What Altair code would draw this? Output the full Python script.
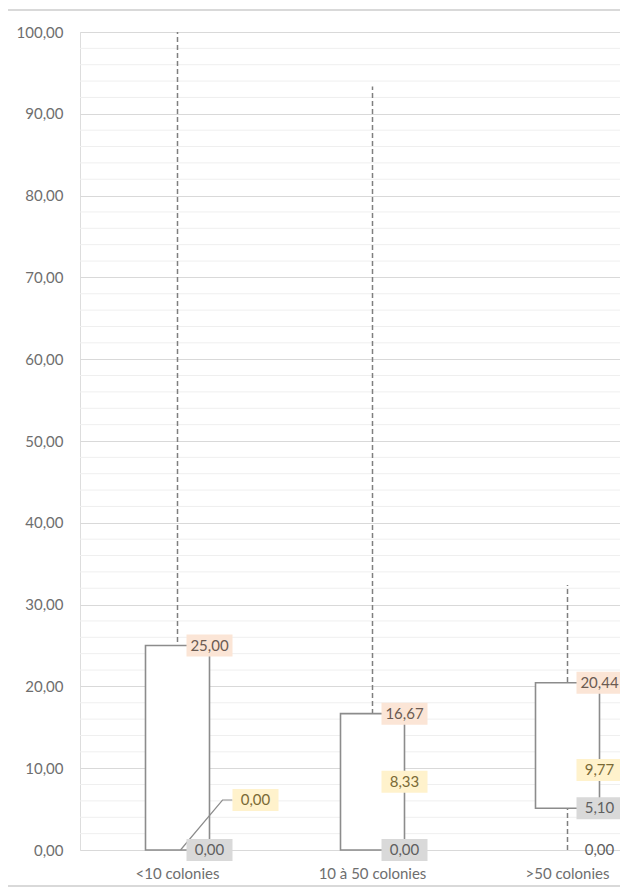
import altair as alt
import pandas as pd

# ---- data ----
categories = ["<10 colonies", "10 à 50 colonies", ">50 colonies"]
minimum = [0.00, 0.00, 0.00]
q1 = [0.00, 0.00, 5.10]
median = [0.00, 8.33, 9.77]
q3 = [25.00, 16.67, 20.44]
maximum = [100.00, 93.33, 32.40]

y_major = [0, 10, 20, 30, 40, 50, 60, 70, 80, 90, 100]
y_minor = [2, 4, 6, 8, 12, 14, 16, 18, 22, 24, 26, 28, 32, 34, 36, 38,
           42, 44, 46, 48, 52, 54, 56, 58, 62, 64, 66, 68, 72, 74, 76, 78,
           82, 84, 86, 88, 92, 94, 96, 98]

df = pd.DataFrame({"cat": categories, "min": minimum, "q1": q1,
                   "median": median, "q3": q3, "max": maximum})
minor_df = pd.DataFrame({"v": y_minor})

FONT = "Lato"
FS = 15
W, H = 540, 818
BOX = 64
HALF = BOX / 2


def rect_path(w, h):
    r = h / w
    return f"M-1,{-r:.4f}L1,{-r:.4f}L1,{r:.4f}L-1,{r:.4f}Z", w * w


def fmt(field):
    return f"replace(format(datum['{field}'], '.2f'), '.', ',')"


x_enc = alt.X("cat:N", sort=categories,
              scale=alt.Scale(type="band", range=[0, 585], paddingInner=0, paddingOuter=0),
              axis=alt.Axis(title=None, labelAngle=0, domain=False, ticks=False, grid=False,
                            labelFont=FONT, labelFontSize=FS, labelColor="#6e6e6e",
                            labelPadding=16))
y_scale = alt.Scale(domain=[0, 100], nice=False, zero=False)
y_axis = alt.Axis(title=None, values=y_major, labelExpr="replace(format(datum.value, '.2f'), '.', ',')",
                  domain=False, ticks=False, grid=True, gridColor="#d9d9d9", gridWidth=1,
                  labelFont=FONT, labelFontSize=FS, labelColor="#6e6e6e", labelPadding=17)

base = alt.Chart(df)

minor = alt.Chart(minor_df).mark_rule(color="#efefef", strokeWidth=1).encode(
    y=alt.Y("v:Q", scale=y_scale, axis=y_axis))

whisker = base.mark_rule(color="#7f7f7f", strokeWidth=1.5, strokeDash=[5, 3]).encode(
    x=x_enc, y=alt.Y("min:Q", scale=y_scale, axis=y_axis), y2="max:Q")

box = base.mark_bar(fill="white", stroke="#8c8c8c", strokeWidth=1.6, size=BOX).encode(
    x=x_enc, y=alt.Y("q1:Q", scale=y_scale, axis=y_axis), y2="q3:Q")

bg_shape, bg_size = rect_path(46, 22)


def label_layers(field, bg, fg, src, dx=HALF, dy=0, with_bg=True):
    layers = []
    if with_bg:
        layers.append(src.mark_point(shape=bg_shape, size=bg_size, filled=True, fill=bg,
                                     opacity=1, strokeWidth=0, xOffset=dx, yOffset=dy).encode(
            x=x_enc, y=alt.Y(f"{field}:Q", scale=y_scale, axis=y_axis)))
    layers.append(src.transform_calculate(lbl=fmt(field)).mark_text(
        font=FONT, fontSize=FS, color=fg, dx=dx, dy=dy, align="center", baseline="middle").encode(
        x=x_enc, y=alt.Y(f"{field}:Q", scale=y_scale, axis=y_axis), text="lbl:N"))
    return layers


q3_layers = label_layers("q3", "#fbe5d6", "#6b5b52", base)
q1_layers = label_layers("q1", "#d9d9d9", "#5f5f5f", base)
med_normal = base.transform_filter("datum.median != datum.q1")
med_moved = base.transform_filter("datum.median == datum.q1")
med_layers = label_layers("median", "#fff2cc", "#7a6a36", med_normal)
med_moved_layers = label_layers("median", "#fff2cc", "#7a6a36", med_moved, dx=78, dy=-50)

leader_path = "M0.06,0L0.9,-1L1.1,-1"
leader = med_moved.mark_point(shape=leader_path, size=10000, filled=False, stroke="#8c8c8c",
                              strokeWidth=1.2, opacity=1).encode(
    x=x_enc, y=alt.Y("median:Q", scale=y_scale, axis=y_axis))

min_layers = label_layers("min", "white", "#5f5f5f",
                          base.transform_filter("datum.min != datum.q1"), with_bg=False)

frame_top = alt.Chart(minor_df).mark_rule(color="#d9d9d9", strokeWidth=1.5).encode(
    x=alt.value(-72), x2=alt.value(W), y=alt.value(-22))
frame_bot = alt.Chart(minor_df).mark_rule(color="#d9d9d9", strokeWidth=1.5).encode(
    x=alt.value(-72), x2=alt.value(W), y=alt.value(H + 36))

chart = alt.layer(
    minor, whisker, box, leader,
    *q3_layers, *q1_layers, *med_layers, *med_moved_layers, *min_layers,
    frame_top, frame_bot
).properties(
    width=W, height=H,
    autosize=alt.AutoSizeParams(type="none"),
    padding={"left": 72, "top": 24, "right": 0, "bottom": 37},
).configure_view(stroke=None).configure(background="white")

chart.save("out.html", embed_options={"renderer": "svg", "actions": False})
